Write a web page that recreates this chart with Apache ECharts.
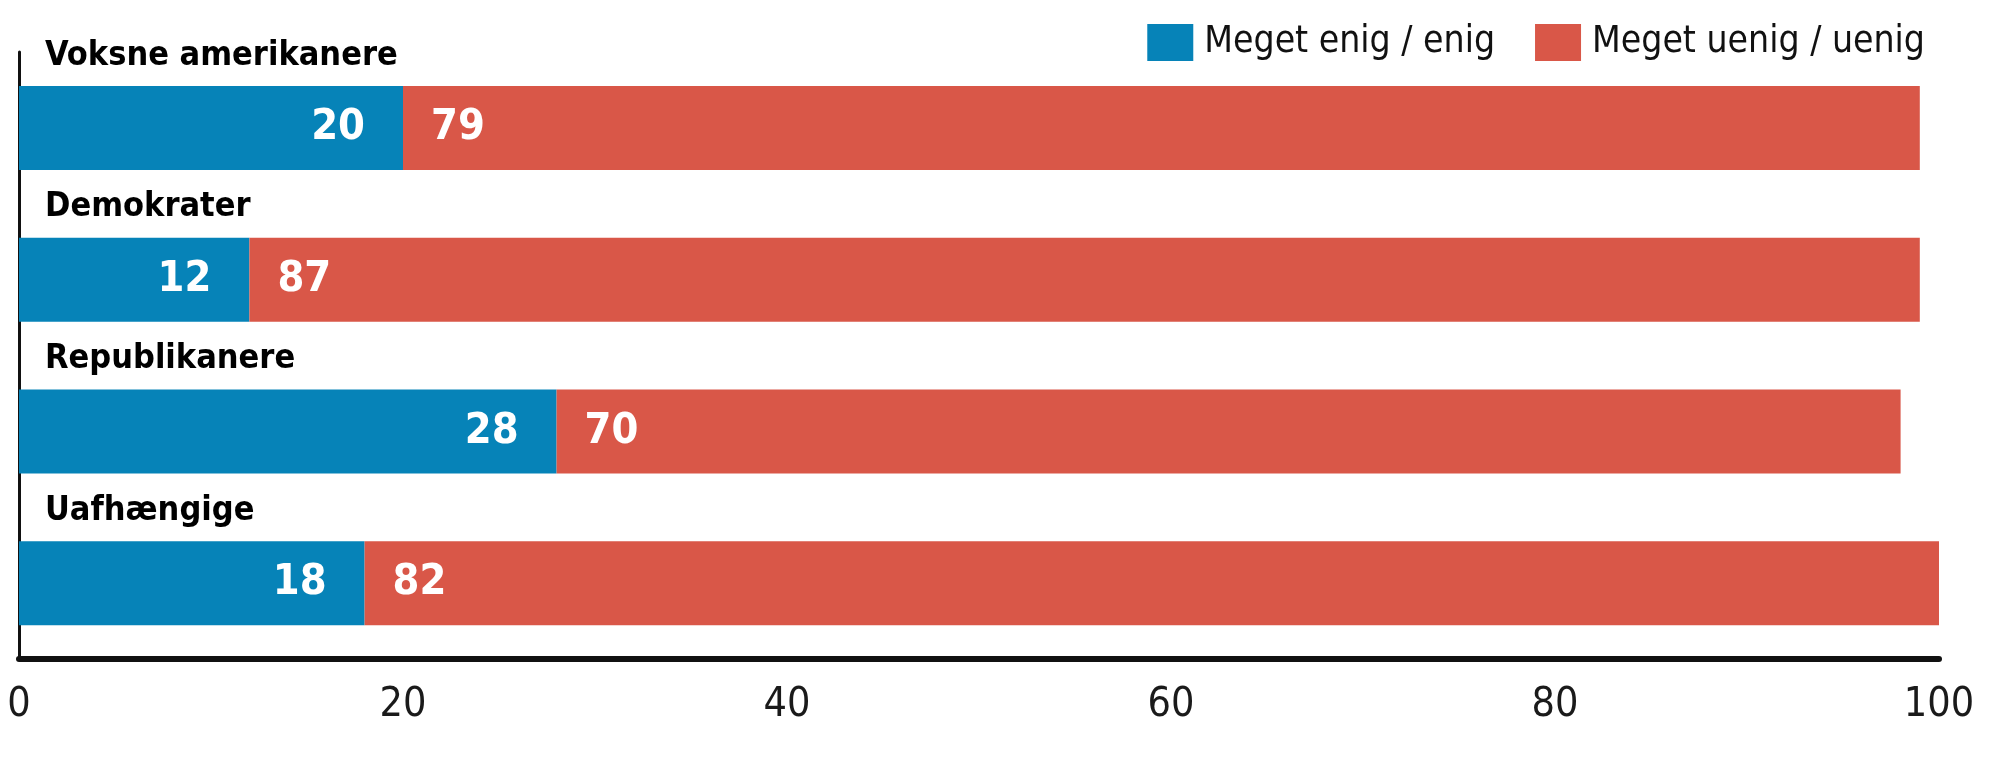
<!DOCTYPE html>
<html>
<head>
<meta charset="utf-8">
<title>Enig / uenig</title>
<script src="https://cdn.jsdelivr.net/npm/echarts@6/dist/echarts.min.js"></script>
<style>
    html, body { margin: 0; padding: 0; background: #fff; }
    #main { width: 2000px; height: 783px; }
</style>
</head>
<body>
<div id="main"></div>
<script type="text/javascript">
    // data
    var categories = ['Voksne amerikanere', 'Demokrater', 'Republikanere', 'Uafhængige'];
    var agreeValues = [20, 12, 28, 18];
    var disagreeValues = [79, 87, 70, 82];
    var seriesNames = ['Meget enig / enig', 'Meget uenig / uenig'];
    var xTicks = [0, 20, 40, 60, 80, 100];

    var fontFamily = '"Liberation Sans Narrow", "DejaVu Sans Condensed", sans-serif';

    // one invisible point per category, only used to carry the name above each bar
    var nameAnchors = categories.map(function (c) { return [0, c]; });

    var myChart = echarts.init(document.getElementById('main'));
    myChart.setOption({
        animation: false,
        color: ['#0683b8', '#d95748'],
        textStyle: { fontFamily: fontFamily },
        legend: {
            data: seriesNames,
            right: 70,
            top: 19,
            icon: 'rect',
            itemWidth: 46,
            itemHeight: 37,
            itemGap: 40,
            textStyle: { fontSize: 37, color: '#111', fontFamily: fontFamily, padding: [0, 0, 0, 6] }
        },
        grid: {
            left: 19,
            right: 61,
            top: 52,
            bottom: 124,
            containLabel: false
        },
        xAxis: {
            type: 'value',
            min: xTicks[0],
            max: xTicks[xTicks.length - 1],
            interval: xTicks[1] - xTicks[0],
            axisLine: { show: true, lineStyle: { color: '#111', width: 6 } },
            axisTick: { show: false },
            splitLine: { show: false },
            axisLabel: { fontSize: 41, color: '#1a1a1a', margin: 26, fontFamily: fontFamily }
        },
        yAxis: {
            type: 'category',
            inverse: true,
            data: categories,
            axisLine: { show: true, lineStyle: { color: '#111', width: 3 } },
            axisTick: { show: false },
            axisLabel: { show: false }
        },
        series: [
            {
                name: seriesNames[0],
                type: 'bar',
                stack: 'total',
                barWidth: 84,
                data: agreeValues,
                label: {
                    show: true,
                    position: 'insideRight',
                    distance: 38,
                    color: '#fff',
                    fontSize: 43,
                    fontWeight: 'bold',
                    fontFamily: fontFamily
                }
            },
            {
                name: seriesNames[1],
                type: 'bar',
                stack: 'total',
                barWidth: 84,
                data: disagreeValues,
                label: {
                    show: true,
                    position: 'insideLeft',
                    distance: 28,
                    color: '#fff',
                    fontSize: 43,
                    fontWeight: 'bold',
                    fontFamily: fontFamily
                }
            },
            {
                name: 'kategori',
                type: 'scatter',
                symbolSize: 0,
                silent: true,
                itemStyle: { opacity: 1 },
                data: nameAnchors,
                label: {
                    show: true,
                    position: 'right',
                    distance: 26,
                    offset: [0, -72],
                    formatter: function (p) { return p.value[1]; },
                    fontSize: 34,
                    fontWeight: 'bold',
                    color: '#000',
                    opacity: 1,
                    fontFamily: fontFamily
                }
            }
        ]
    });
</script>
</body>
</html>
